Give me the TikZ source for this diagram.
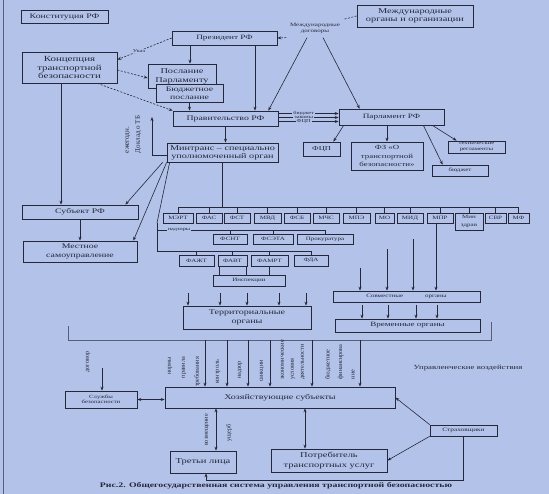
\documentclass[tikz,border=0pt]{standalone}
\usepackage{fontspec}
\setmainfont{Liberation Serif}[FakeStretch=1.4]
\newfontfamily\plainfont{Liberation Serif}
\usetikzlibrary{arrows.meta, calc}
\definecolor{cpaper}{RGB}{178,194,232}
\definecolor{cink}{RGB}{38,40,58}
\definecolor{cfaint}{RGB}{88,94,120}
\tikzset{
  box/.style={draw=cink, fill=cpaper, line width=0.7pt, align=center, inner sep=0.5pt, font=\fontsize{7}{8}\selectfont},
  mini/.style={box, font=\fontsize{5}{5.6}\selectfont, minimum height=10},
  lab/.style={font=\fontsize{5}{6}\selectfont, align=center},
  tinylab/.style={font=\fontsize{4.5}{5}\selectfont, align=center},
  vlab/.style={rotate=90, inner sep=0pt, font=\plainfont\fontsize{6.2}{7}\selectfont},
  arr/.style={-{Stealth[length=4pt, width=3pt]}, line width=0.6pt},
  arrs/.style={{Stealth[length=4pt, width=3pt]}-{Stealth[length=4pt, width=3pt]}, line width=0.6pt},
  dline/.style={dash pattern=on 2pt off 1.5pt},
}

\begin{document}
\begin{tikzpicture}[x=1pt, y=-1pt, color=cink, line width=0.6pt]
  \useasboundingbox (0,0) rectangle (549,494);
  \fill[cpaper] (0,0) rectangle (549,494);
  \draw[cfaint, line width=0.8pt] (3,0) -- (3,494);

  % upper level
  \node[box, minimum width=87, minimum height=13] (konst) at (64.5,16.5) {Конституция РФ};
  \node[box, font=\fontsize{6.6}{7}\selectfont, minimum width=105, minimum height=14] (pres) at (224.5,38) {Президент РФ};
  \node[box, font=\fontsize{7.4}{8}\selectfont, minimum width=116, minimum height=22] (intl) at (415,16) {Международные\\органы и организации};
  \node[lab, font=\fontsize{5}{6.7}\selectfont] (treaty) at (315,28.5) {Международные\\договоры};
  \node[box, font=\fontsize{7.8}{8.5}\selectfont, minimum width=95, minimum height=31] (konc) at (69.5,67.5) {Концепция\\транспортной\\безопасности};
  \node[box, font=\fontsize{7.4}{9}\selectfont, minimum width=68, minimum height=24] (msg) at (182,76) {Послание\\Парламенту};
  \node[box, font=\fontsize{7}{8.5}\selectfont, minimum width=67, minimum height=18] (budmsg) at (189.5,93) {Бюджетное\\послание};
  \node[box, minimum width=105, minimum height=15] (gov) at (225.5,118.5) {Правительство РФ};
  \node[box, font=\fontsize{6.6}{7}\selectfont, minimum width=105, minimum height=16] (parl) at (391.5,117) {Парламент РФ};
  \node[box, font=\fontsize{6}{7}\selectfont, minimum width=37, minimum height=14] (fcp) at (321.5,149) {ФЦП};
  \node[box, font=\fontsize{6.3}{8.3}\selectfont, minimum width=72, minimum height=28] (fz) at (387,156) {ФЗ «О\\транспортной\\безопасности»};
  \node[box, font=\fontsize{4.8}{5.6}\selectfont, minimum width=57, minimum height=12] (techreg) at (476.5,147) {технические\\регламенты};
  \node[box, font=\fontsize{5}{6}\selectfont, minimum width=56, minimum height=11] (budget) at (460,170.5) {бюджет};
  \node[box, font=\fontsize{7.3}{8}\selectfont, minimum width=111, minimum height=19] (mintrans) at (222.5,152.5) {Минтранс – специально\\уполномоченный орган};
  \node[vlab, align=left, font=\plainfont\fontsize{7}{11}\selectfont] (report) at (133.5,134.5) {ежегодн.\\Доклад о ТБ};

  \draw[dline] (intl.west) -- (treaty.north east);
  \draw[dline, arr] (treaty.south west) -- (pres.east);
  \draw[arr] ([xshift=-8]treaty.south) -- ([xshift=-10]gov.north east);
  \draw[arr] ([xshift=8]treaty.south) -- ([xshift=21]parl.north west);
  \draw[dline, arr] (pres.west) -- node[tinylab, fill=cpaper, inner sep=0.5pt, pos=0.6] {Указ} ([yshift=-8]konc.north east);
  \draw[arr] ([xshift=-34.5]pres.south) -- ([xshift=-34.5]pres.south |- msg.north);
  \draw[arr] ([xshift=30.5]pres.south) -- ([xshift=30.5]pres.south |- gov.north);
  \draw[arr] (budmsg.south) -- (budmsg.south |- gov.north);
  \draw[dline, arr] ([yshift=-2.5]konc.east) -- ([yshift=-2]msg.west);
  \draw[dline, arr] ([xshift=-20]konc.south east) -- (gov.north west);
  \draw[arr] (gov.south) -- (gov.south |- mintrans.north);
  \coordinate (repend) at (152,117);
  \draw[arr] ([yshift=-3]mintrans.west) -| (repend);
  \foreach \dy/\txt in {5/бюджет, 1/законы, -3/ФЦП}
    \draw[arr] ([yshift=\dy]gov.east) -- node[tinylab, fill=cpaper, inner xsep=1pt, inner ysep=0pt, pos=0.42] {\txt} ([yshift=\dy]gov.east -| parl.west);
  \draw[arr] ([xshift=5]parl.south west) -- ([xshift=-7]fcp.north east);
  \draw[arr] (fz.north |- parl.south) -- (fz.north);
  \draw[arr] ([xshift=-21]parl.south east) -- ([xshift=11]budget.north west);
  \draw[arr] ([xshift=-12]parl.south east) -- ([xshift=9]techreg.north west);

  % regions
  \node[box, minimum width=116, minimum height=14] (subj) at (80,212) {Субъект РФ};
  \node[box, font=\fontsize{7}{8.3}\selectfont, minimum width=114, minimum height=21] (local) at (80,251.5) {Местное\\самоуправление};
  \draw[arr] ([xshift=-8.5]konc.south) -- ([xshift=-8.5]konc.south |- subj.north);
  \draw[arr] (subj) -- (local);

  % ministries and services
  \node[mini, minimum width=30] (mert) at (178,218) {МЭРТ};
  \node[mini, minimum width=26] (fas) at (209,218) {ФАС};
  \node[mini, minimum width=26] (fst) at (237,218) {ФСТ};
  \node[mini, minimum width=27] (mvd) at (267.5,218) {МВД};
  \node[mini, minimum width=26] (fsb) at (297,218) {ФСБ};
  \node[mini, minimum width=26] (mchs) at (326,218) {МЧС};
  \node[mini, minimum width=27] (mpe) at (356.5,218) {МПЭ};
  \node[mini, minimum width=19] (mo) at (384.5,218) {МО};
  \node[mini, minimum width=26] (mid) at (410,218) {МИД};
  \node[mini, minimum width=26] (mpr) at (440,218) {МПР};
  \node[mini, minimum width=28, minimum height=17, font=\fontsize{5}{8}\selectfont] (minzdrav) at (469,221.5) {Мин\\здрав};
  \node[mini, minimum width=21] (svr) at (495.5,218) {СВР};
  \node[mini, minimum width=21] (mf) at (518.5,218) {МФ};
  \node[mini, minimum width=34] (fsnt) at (230,239) {ФСНТ};
  \node[mini, minimum width=40] (fseta) at (273,239) {ФСЭТА};
  \node[mini, minimum width=56] (prok) at (325,239) {Прокуратура};
  \node[mini, minimum width=35, minimum height=11] (fazht) at (196.5,260.5) {ФАЖТ};
  \node[mini, minimum width=29, minimum height=11] (favt) at (232.5,260.5) {ФАВТ};
  \node[mini, minimum width=37, minimum height=11] (famrt) at (269.5,260.5) {ФАМРТ};
  \node[mini, minimum width=34, minimum height=11] (fda) at (311,260.5) {ФДА};
  \node[mini, minimum width=72, minimum height=11] (insp) at (249,280.5) {Инспекции};

  \coordinate (bus) at (0,207);
  \draw (mintrans.south) -- (mintrans.south |- bus);
  \draw (mert.north |- bus) -- (mf.north |- bus);
  \foreach \n in {mert,fas,fst,mvd,fsb,mchs,mpe,mo,mid,mpr,minzdrav,svr,mf}
    \draw (\n.north) -- (\n.north |- bus);
  \coordinate (brk) at (157,223);
  \coordinate (nadz) at (157,230);
  \coordinate (agen) at (157,251);
  \draw (brk) -- (agen) -- (fda.north |- agen);
  \draw (nadz) -- (prok.north |- nadz);
  \node[tinylab, fill=cpaper, inner sep=0.5pt] (nadzlab) at (179,230) {надзоры};
  \foreach \n in {fsnt,fseta,prok}
    \draw (\n.north) -- (\n.north |- nadz);
  \foreach \n in {fazht,favt,famrt,fda}
    \draw (\n.north) -- (\n.north |- agen);
  \draw[arr] ([xshift=-4]mintrans.south west) -- ([xshift=-13]subj.north east);
  \draw[arr] (mintrans.south west) -- ([xshift=-4]local.north east);
  \draw ([xshift=3]mintrans.south west) -- (brk);
  \draw ([xshift=1.5]favt.south west) -- ([xshift=1.5]favt.south west |- insp.north);
  \draw ([xshift=-1.5]favt.south east) -- ([xshift=-1.5]favt.south east |- insp.north);
  \draw (famrt.south) -- (famrt.south |- insp.north);

  % territorial, joint and temporary bodies
  \node[box, font=\fontsize{7.2}{8.3}\selectfont, minimum width=128, minimum height=23] (terr) at (247,317.5) {Территориальные\\органы};
  \node[box, font=\fontsize{5}{6}\selectfont, minimum width=147, minimum height=11] (sovm) at (406.5,296.5) {Совместные\hspace{22pt}органы};
  \node[box, font=\fontsize{6.5}{7}\selectfont, minimum width=145, minimum height=13] (vrem) at (407.5,325.5) {Временные органы};
  \foreach \x in {188,220,247,279,306}
    \draw[arr] (\x,293) -- (terr.north -| \x,0);
  \foreach \x/\y in {360/268,387/249,413/239,436/223}
    \draw[arr] (\x,\y) -- (sovm.north -| \x,0);
  \foreach \x in {362,388,416,437}
    \draw[arr] (\x,305) -- (vrem.north -| \x,0);

  % control actions
  \draw[cfaint, line width=0.5pt] (68,326) -- (68,340) -- (491,340) -- (491,322);
  \coordinate (ctl) at (0,340);
  \node[box, font=\fontsize{7.2}{8}\selectfont, minimum width=230, minimum height=21] (hoz) at (280,397.5) {Хозяйствующие субъекты};
  \foreach \x in {205,227,248,270,312,360}
    \draw[arr] (ctl -| \x,0) -- (hoz.north -| \x,0);
  \node[vlab, align=right, font=\plainfont\fontsize{6.2}{14}\selectfont] (norms) at (184,372) {нормы\\правила\\требования};
  \node[vlab] (control) at (218,372) {контроль};
  \node[vlab] (supervis) at (240,370) {надзор};
  \node[vlab] (sanct) at (262,371) {санкции};
  \node[vlab, align=left, font=\plainfont\fontsize{6.2}{10}\selectfont] (econ) at (293,360) {экономические\\условия\\деятельности};
  \node[vlab, align=left, font=\plainfont\fontsize{6.2}{12.5}\selectfont] (finance) at (340,362) {бюджетное\\финансирова\\ние};
  \node[font=\fontsize{6.3}{7}\selectfont] (ctllab) at (468,368) {Управленческие воздействия};

  % economic subjects
  \node[box, font=\fontsize{4.8}{5.5}\selectfont, minimum width=72, minimum height=17] (secur) at (101,399.5) {Службы\\безопасности};
  \node[box, font=\fontsize{5.2}{6}\selectfont, minimum width=67, minimum height=11] (insur) at (463.5,430.5) {Страховщики};
  \node[box, font=\fontsize{7.5}{8}\selectfont, minimum width=66, minimum height=22] (third) at (203,462) {Третьи лица};
  \node[box, font=\fontsize{7.5}{10}\selectfont, minimum width=116, minimum height=23] (consum) at (329,460.5) {Потребитель\\транспортных услуг};
  \coordinate (contract) at (102,368);
  \node[vlab] (contractlab) at (88,362) {договор};
  \draw[arr] (contract) -- (secur.north -| contract);
  \draw[arrs] (secur.east) -- (secur.east -| hoz.west);
  \draw[arrs] (hoz.south -| 216,0) -- (third.north -| 216,0);
  \node[vlab] (compens) at (207,430) {возмещение};
  \node[vlab] (damage) at (229,433) {ущерб};
  \draw[arrs] (hoz.south -| 305,0) -- (consum.north -| 305,0);
  \draw[arr] (insur.north west) -- (hoz.east);
  \draw[arr] (insur.south west) -- (consum.east);
  \draw[arr] (insur.south) -- ++(0,44) -| ([xshift=3]third.south);

  \node[font=\bfseries\fontsize{7}{8}\selectfont] (caption) at (276,486) {Рис.2. Общегосударственная система управления транспортной безопасностью};
\end{tikzpicture}
\end{document}
